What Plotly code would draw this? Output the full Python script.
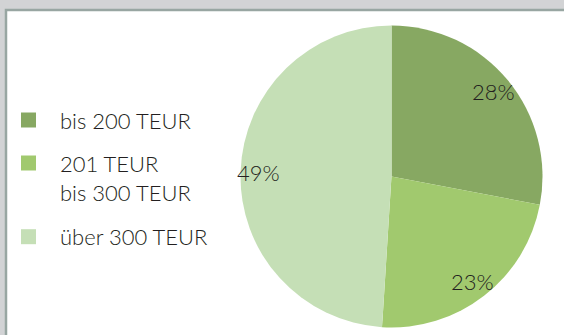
import math
import plotly.graph_objects as go

# Share of companies by revenue band
labels = ["bis 200 TEUR", "201 TEUR<br>bis 300 TEUR", "über 300 TEUR"]
shares = [28, 23, 49]
colors = ["#87a862", "#a1c96e", "#c5dfb6"]

W, H = 564, 335
FONT = "Lato, Liberation Sans, sans-serif"
TEXT = "#231f20"

# pie geometry in pixels
cx, cy, r = 391.5, 176.5, 151.0

fig = go.Figure(
    go.Pie(
        labels=labels,
        values=shares,
        marker=dict(colors=colors, line=dict(width=0)),
        sort=False,
        direction="clockwise",
        rotation=0,
        textinfo="none",
        hoverinfo="label+percent",
        showlegend=False,
        domain=dict(x=[(cx - r) / W, (cx + r) / W],
                    y=[(H - cy - r) / H, (H - cy + r) / H]),
    )
)

annotations = []
shapes = []

# white panel with a grey frame on top and left
shapes.append(dict(type="rect", xref="paper", yref="paper",
                   x0=6 / W, x1=1.05, y0=-0.05, y1=(H - 10) / H,
                   fillcolor="white", line=dict(color="#98a6a2", width=2.5),
                   layer="below"))

# percentage labels placed along each slice's bisector
total = sum(shares)
cum = 0
for v in shares:
    mid = (cum + v / 2) / total * 2 * math.pi
    cum += v
    rr = 0.88 * r
    px = cx + rr * math.sin(mid)
    py = cy - rr * math.cos(mid)
    annotations.append(dict(
        x=px / W, y=(H - py) / H, xref="paper", yref="paper",
        text=f"{round(v / total * 100)}%", showarrow=False,
        font=dict(family=FONT, size=22, color=TEXT, weight=300),
        xanchor="center", yanchor="middle"))

# legend: square swatch + label, spacing grows with label line count
line_h = 30.7
sq = 15
y_sw = 120.0
for lab, col in zip(labels, colors):
    n = lab.count("<br>") + 1
    shapes.append(dict(type="rect", xref="paper", yref="paper",
                       x0=21 / W, x1=(21 + sq) / W,
                       y0=(H - y_sw - sq / 2) / H, y1=(H - y_sw + sq / 2) / H,
                       fillcolor=col, line=dict(width=0)))
    yc = y_sw + (n - 1) * line_h / 2
    annotations.append(dict(
        x=58 / W, y=(H - yc) / H, xref="paper", yref="paper",
        text=lab, showarrow=False, align="left",
        font=dict(family=FONT, size=22, color=TEXT, weight=300),
        xanchor="left", yanchor="middle"))
    y_sw += 43 + (n - 1) * line_h

fig.update_layout(
    width=W, height=H,
    margin=dict(l=0, r=0, t=0, b=0),
    paper_bgcolor="#d2d3d5",
    plot_bgcolor="white",
    shapes=shapes,
    annotations=annotations,
)

fig.write_html("out.html")
